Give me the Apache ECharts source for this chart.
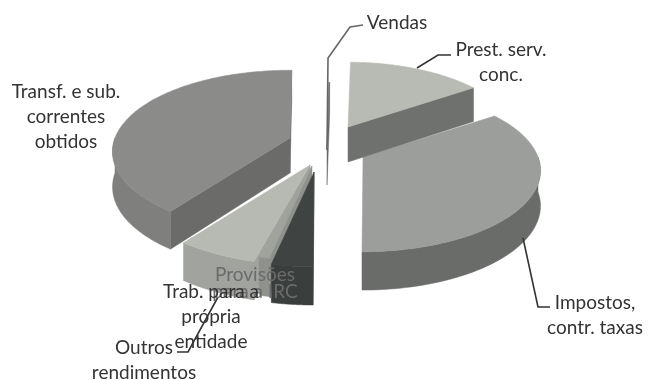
<!DOCTYPE html>
<html>
<head>
<meta charset="utf-8">
<style>html,body{margin:0;padding:0;background:#fff}#main{width:649px;height:380px}</style>
<script src="https://cdn.jsdelivr.net/npm/echarts@6/dist/echarts.min.js"></script>
</head>
<body>
<div id="main"></div>
<script>
// clockwise from the top of the pie
var categories = ['Prest. serv. conc.', 'Impostos, contr. taxas', 'Provisões para a IRC', 'Outros rendimentos', 'Trab. para a própria entidade', 'Transf. e sub. correntes obtidos', 'Vendas'];
var values = [15.1, 34.7, 3.2, 0.8, 6.0, 40.1, 0.1];

// look of each slice, same order as categories
var apexX = [348, 363, 314, 312, 310, 290, 327];
var apexY = [127, 157, 172, 166, 165, 138, 150];
var sizes = [0.95, 1, 1, 1, 1.05, 1, 1];
var topColors = ['#b8bab4', '#9c9e9c', '#3f4342', '#9fa29d', '#b7b9b3', '#8b8c8a', '#777777'];
var wallColors = ['#6f716e', '#6a6c6a', '#3a3e3d', '#8f918d', '#a1a39f', '#7f807e', '#666666'];
var innerColors = ['#6f716e', '#6a6c6a', '#3a3e3d', '#8f918d', '#a1a39f', '#6b6c6a', '#666666'];
var drawOrder = [1, 4, 5, 6, 3, 0, 2];

var startAngle = 1;
var radiusX = 175, radiusY = 79, persp = 0.166, depth = 35;

var total = values.reduce(function (a, b) { return a + b; }, 0);

function project(apex, deg, r, down) {
    var a = deg * Math.PI / 180;
    var X = Math.sin(a) * r, Y = Math.cos(a) * r;
    var s = 1 / (1 + persp * Y);
    return [apex[0] + radiusX * X * s, apex[1] - radiusY * Y * s + (down ? depth * Math.sqrt(s) : 0)];
}

function area(pts) {
    var sum = 0;
    for (var i = 0; i < pts.length; i++) {
        var p = pts[i], q = pts[(i + 1) % pts.length];
        sum += p[0] * q[1] - q[0] * p[1];
    }
    return sum;
}

function poly(points, color, z) {
    return {
        type: 'polygon',
        z2: z,
        shape: { points: points },
        style: { fill: color, stroke: color, lineWidth: 0.5 }
    };
}

function renderSlice(params) {
    var i = params.dataIndex;
    var before = 0;
    for (var k = 0; k < i; k++) before += values[k];
    var a0 = startAngle + before / total * 360;
    var a1 = a0 + values[i] / total * 360;
    var apex = [apexX[i], apexY[i]];
    var r = sizes[i];
    var z = drawOrder.indexOf(i) * 10;
    var children = [];

    var steps = Math.max(2, Math.ceil(a1 - a0));
    var topPts = [project(apex, 0, 0, false)];
    for (var n = 0; n <= steps; n++) {
        topPts.push(project(apex, a0 + (a1 - a0) * n / steps, r, false));
    }

    // radial walls, only when they face the viewer
    [[a0, true], [a1, false]].forEach(function (w) {
        var wall = [project(apex, 0, 0, false), project(apex, w[0], r, false), project(apex, w[0], r, true), project(apex, 0, 0, true)];
        var facing = w[1] ? area(wall) < 0 : area(wall) > 0;
        if (facing) children.push(poly(wall, innerColors[i], z));
    });

    // outer wall, front half only
    var from = Math.max(a0, 90), to = Math.min(a1, 270);
    if (to > from) {
        var up = [], low = [];
        for (var m = 0; m <= 60; m++) {
            var d = from + (to - from) * m / 60;
            up.push(project(apex, d, r, false));
            low.unshift(project(apex, d, r, true));
        }
        children.push(poly(up.concat(low), wallColors[i], z + 1));
    }

    children.push(poly(topPts, topColors[i], z + 2));
    return { type: 'group', children: children };
}

function label(text, x, y, color, lineHeight) {
    return {
        type: 'text',
        z: 10,
        style: {
            text: text,
            x: x,
            y: y,
            fill: color || '#333333',
            font: '19px Lato',
            lineHeight: lineHeight || 25,
            align: 'center',
            verticalAlign: 'middle'
        }
    };
}

function leader(points, color) {
    return {
        type: 'polyline',
        z: 9,
        shape: { points: points },
        style: { stroke: color || '#333333', lineWidth: 1.6, fill: null }
    };
}

var myChart = echarts.init(document.getElementById('main'));
var option = {
    animation: false,
    backgroundColor: '#ffffff',
    series: [{
        type: 'custom',
        coordinateSystem: 'none',
        renderItem: renderSlice,
        data: values
    }],
    graphic: [
        leader([[327, 150], [328, 58], [350, 27], [363, 25]], '#666666'),
        leader([[417, 68], [438, 55], [451, 55]]),
        leader([[523, 238], [538, 307], [550, 307]]),
        leader([[218, 297], [188, 352], [177, 352]]),
        label('Vendas', 397, 23),
        label('Prest. serv.\nconc.', 501, 62),
        label('Impostos,\ncontr. taxas', 595, 315),
        label('Transf. e sub.\ncorrentes\nobtidos', 66, 117),
        label('Provisões\npara a IRC', 255, 283, '#6b6b6b', 17),
        label('Trab. para a\nprópria\nentidade', 211, 317),
        label('Outros\nrendimentos', 144, 360)
    ]
};
myChart.setOption(option);
window.onresize = function () {
    myChart.resize();
};
</script>
</body>
</html>
